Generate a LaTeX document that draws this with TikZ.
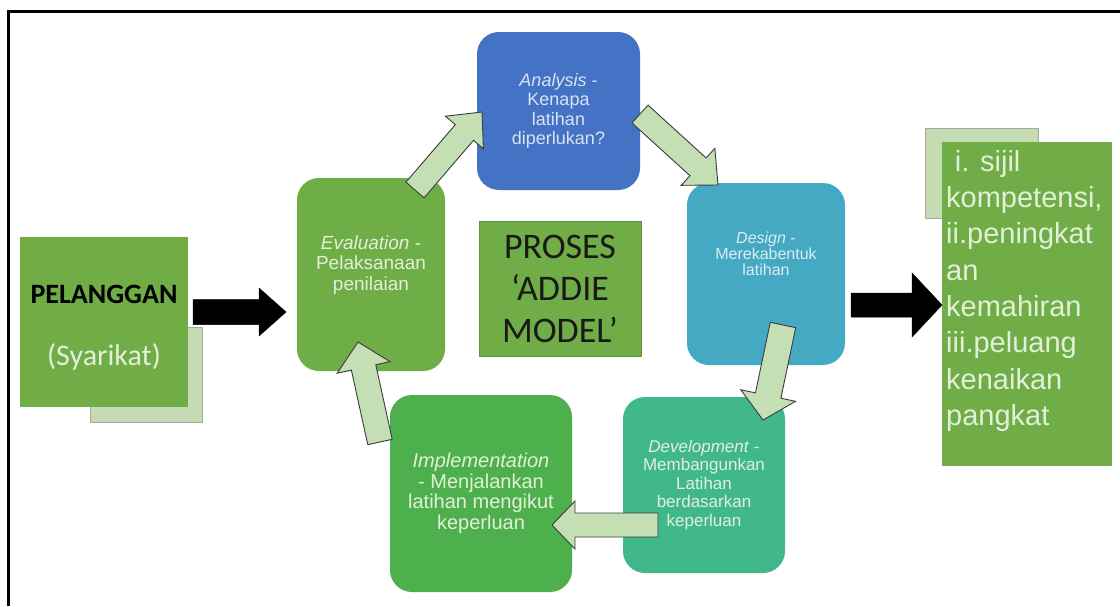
\documentclass[tikz,border=0pt]{standalone}
\usepackage{fontspec}
\setmainfont{Liberation Sans}
\newfontfamily\calibri{Carlito}
\usetikzlibrary{calc}

\definecolor{anaBlue}{HTML}{4472C4}
\definecolor{desTeal}{HTML}{45A9C3}
\definecolor{devGreen}{HTML}{41B78C}
\definecolor{impGreen}{HTML}{4DB04C}
\definecolor{evalGreen}{HTML}{6FAD47}
\definecolor{boxGreen}{HTML}{70AD47}
\definecolor{paleGreen}{HTML}{C5DFB4}
\definecolor{shadowGreen}{HTML}{C5DCB3}
\definecolor{lightText}{HTML}{E2F0D9}
\definecolor{blueText}{HTML}{DAE3F3}
\definecolor{tealText}{HTML}{DAEEF3}
\definecolor{arrowEdge}{HTML}{3B3B3B}

% block arrow: style, tail, tip, shaft half-width, head half-width, head length
\newcommand\blockarrow[6]{%
  \path ($(#3)!#6!(#2)$) coordinate (ba-neck);
  \draw[#1] ($(#2)!#4!90:(#3)$) -- ($(ba-neck)!#4!90:(#3)$)
    -- ($(ba-neck)!#5!90:(#3)$) -- (#3)
    -- ($(ba-neck)!#5!-90:(#3)$) -- ($(ba-neck)!#4!-90:(#3)$)
    -- ($(#2)!#4!-90:(#3)$) -- cycle;
}

\tikzset{
  phase/.style={rounded corners=22pt, inner sep=4pt, align=center, text=lightText},
  phasetext/.style={align=center, inner sep=0pt, text=lightText},
  flatbox/.style={inner sep=0pt},
  shadowbox/.style={fill=shadowGreen, draw=gray!70, line width=0.8pt, inner sep=0pt},
  flowarrow/.style={fill=paleGreen, draw=arrowEdge, line width=0.9pt, line join=miter},
  bigarrow/.style={fill=black, draw=black, line width=0.5pt, line join=miter},
}

\begin{document}
\begin{tikzpicture}[x=1pt,y=-1pt]
\useasboundingbox (0,0) rectangle (1120,606);
\fill[white] (0,0) rectangle (1120,606);

% outer frame (open at right and bottom)
\draw[line width=2.5pt] (8.7,606) -- (8.7,11.3) -- (1120,11.3);

% customer block
\node[shadowbox, minimum width=112pt, minimum height=95pt] (pel-back) at (146,374.5) {};
\node[flatbox, fill=boxGreen, minimum width=168pt, minimum height=170pt] (pel) at (104,322) {};
\node[font=\calibri\bfseries\fontsize{28}{32}\selectfont, text=black] (pel-title) at (104,294) {PELANGGAN};
\node[font=\calibri\fontsize{30}{34}\selectfont, text=lightText] (pel-sub) at (104,357) {(Syarikat)};

% outcome block
\node[shadowbox, minimum width=113pt, minimum height=90pt] (out-back) at (981.5,173) {};
\node[flatbox, fill=boxGreen, minimum width=170pt, minimum height=324pt] (out) at (1027,304) {};
\node[anchor=north west, align=left, inner sep=0pt, text=lightText,
      font=\fontsize{29}{36.3}\selectfont] (out-text) at (946,150)
  {\hspace{0.3em}i. sijil\\kompetensi,\\ii.peningkat\\an\\kemahiran\\iii.peluang\\kenaikan\\pangkat};

% ADDIE phases
\node[phase, fill=anaBlue, text=blueText, minimum width=163pt, minimum height=158pt,
      font=\fontsize{18}{19.5}\selectfont] (analysis) at (558.5,111)
  {\textit{Analysis} -\\Kenapa\\latihan\\diperlukan?};
\node[phase, fill=desTeal, minimum width=158pt, minimum height=182pt] (design) at (766,274) {};
\node[phasetext, text=tealText, font=\fontsize{16}{16}\selectfont] (design-text) at (766,254)
  {\textit{Design} -\\Merekabentuk\\latihan};
\node[phase, fill=devGreen, minimum width=162pt, minimum height=176pt,
      font=\fontsize{17}{18.5}\selectfont] (develop) at (704,485)
  {\textit{Development} -\\Membangunkan\\Latihan\\berdasarkan\\keperluan};
\node[phase, fill=impGreen, minimum width=182pt, minimum height=197pt,
      font=\fontsize{20}{20.5}\selectfont] (implement) at (481,493.5)
  {\textit{Implementation}\\- Menjalankan\\latihan mengikut\\keperluan};
\node[phase, fill=evalGreen, minimum width=148pt, minimum height=193pt] (evaluate) at (371,274.5) {};
\node[phasetext, font=\fontsize{19}{20.5}\selectfont] (evaluate-text) at (371,265)
  {\textit{Evaluation} -\\Pelaksanaan\\penilaian};

% centre title
\node[flatbox, fill=boxGreen, draw=boxGreen!85!black, line width=0.6pt,
      minimum width=162pt, minimum height=135pt, align=center, text=black!90,
      font=\calibri\fontsize{36}{42}\selectfont] (title) at (560,288.5)
  {PROSES\\‘ADDIE\\MODEL’};

% arrow end points
\coordinate (in-tail) at (193,312);
\coordinate (in-tip) at (286,312);
\coordinate (res-tail) at (851,305);
\coordinate (res-tip) at (942,305);
\coordinate (ea-tail) at (415,190);
\coordinate (ea-tip) at (482,112);
\coordinate (ad-tail) at (640,114);
\coordinate (ad-tip) at (718,185);
\coordinate (dd-tail) at (783,325);
\coordinate (dd-tip) at (763,420);
\coordinate (di-tail) at (658,525);
\coordinate (di-tip) at (552,525);
\coordinate (ie-tail) at (380,442);
\coordinate (ie-tip) at (358,342);

% input and result arrows
\blockarrow{bigarrow}{in-tail}{in-tip}{12.5pt}{24pt}{27pt}
\blockarrow{bigarrow}{res-tail}{res-tip}{12pt}{32pt}{30pt}

% cycle arrows
\blockarrow{flowarrow}{ea-tail}{ea-tip}{12pt}{25pt}{27pt}
\blockarrow{flowarrow}{ad-tail}{ad-tip}{12pt}{25pt}{27pt}
\blockarrow{flowarrow}{dd-tail}{dd-tip}{13pt}{28pt}{25pt}
\blockarrow{flowarrow}{di-tail}{di-tip}{12pt}{24pt}{23pt}
\blockarrow{flowarrow}{ie-tail}{ie-tip}{12.5pt}{27pt}{26pt}
\end{tikzpicture}
\end{document}
